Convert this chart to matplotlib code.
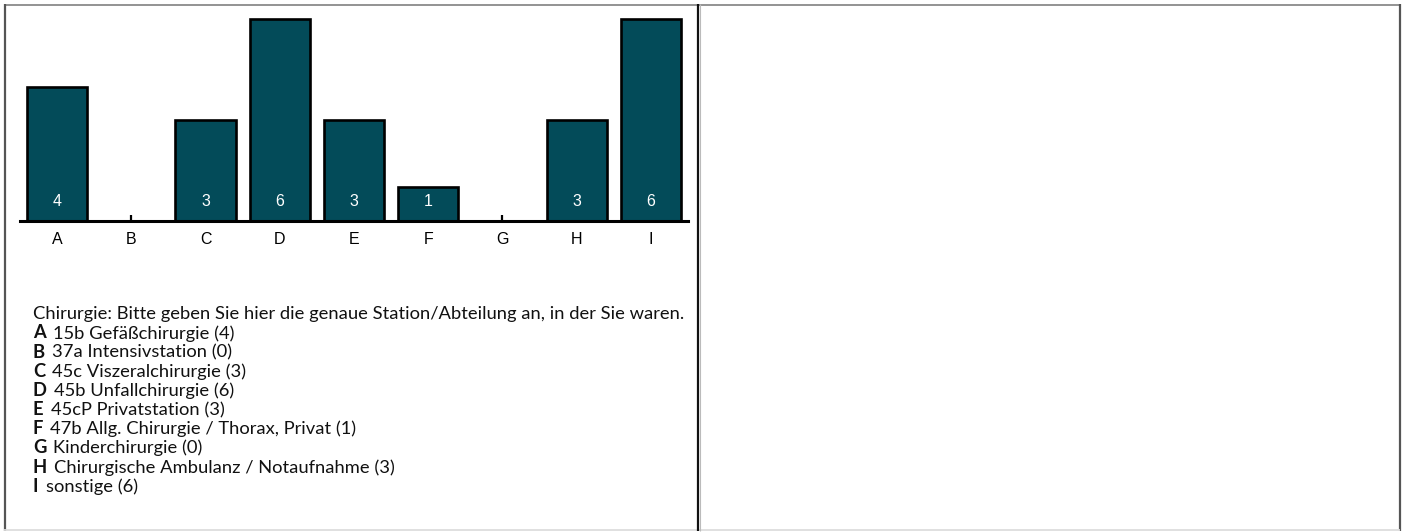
import matplotlib
matplotlib.use("Agg")
import matplotlib.pyplot as plt
from matplotlib.lines import Line2D

categories = ["A", "B", "C", "D", "E", "F", "G", "H", "I"]
values = [4, 0, 3, 6, 3, 1, 0, 3, 6]
title = "Chirurgie: Bitte geben Sie hier die genaue Station/Abteilung an, in der Sie waren."
descriptions = [
    "15b Gefäßchirurgie (4)",
    "37a Intensivstation (0)",
    "45c Viszeralchirurgie (3)",
    "45b Unfallchirurgie (6)",
    "45cP Privatstation (3)",
    "47b Allg. Chirurgie / Thorax, Privat (1)",
    "Kinderchirurgie (0)",
    "Chirurgische Ambulanz / Notaufnahme (3)",
    "sonstige (6)",
]

W, H = 1404, 532
DPI = 100
fig = plt.figure(figsize=(W / DPI, H / DPI), dpi=DPI)
fig.patch.set_facecolor("white")

def fx(px):
    return px / W

def fy(py):
    return 1 - py / H

# panel borders
def fline(x0, y0, x1, y1, color, lw):
    fig.add_artist(Line2D([fx(x0), fx(x1)], [fy(y0), fy(y1)], color=color, lw=lw,
                          transform=fig.transFigure, solid_capstyle="butt"))

fline(4, 4.5, 1400, 4.5, "#8a8a8a", 1.3)
fline(4.5, 4, 4.5, 531, "#555555", 1.6)
fline(1399.5, 4, 1399.5, 531, "#555555", 1.6)
fline(4, 530, 1400, 530, "#dddddd", 1.3)
fline(697.5, 4, 697.5, 531, "#111111", 1.6)
fline(700, 4, 700, 531, "#bbbbbb", 0.8)

# bar chart axes
ymax = 6.3
unit_px = 33.6
axis_y = 221
ax_left, ax_right = 20, 688
ax_h = ymax * unit_px
ax = fig.add_axes([fx(ax_left), fy(axis_y), (ax_right - ax_left) / W, ax_h / H])
ax.set_facecolor("none")
x = list(range(len(categories)))
bar_color = "#034b59"
ax.bar(x, values, width=0.81, color=bar_color, edgecolor="black", linewidth=1.9, zorder=2)
ax.set_xlim(-0.5, len(categories) - 0.5)
ax.set_ylim(0, ymax)
for s in ["top", "right", "left"]:
    ax.spines[s].set_visible(False)
ax.spines["bottom"].set_linewidth(2.2)
ax.spines["bottom"].set_zorder(3)
ax.set_yticks([])
ax.set_xticks(x)
ax.set_xticklabels(categories, fontfamily="Liberation Sans", fontsize=11.5)
ax.tick_params(axis="x", direction="in", length=4, width=1.6, pad=8, color="black")
for xi, v in zip(x, values):
    if v > 0:
        ax.text(xi, 0.58, str(v), color="white", ha="center", va="center",
                fontfamily="Liberation Sans", fontsize=11.5, zorder=4)

# text block
font = "Lato"
fs = 11.5
renderer = fig.canvas.get_renderer()
t = fig.text(fx(33), fy(319), title, fontfamily=font, fontsize=fs, ha="left",
             va="baseline", color="#111111")
w = t.get_window_extent(renderer).width
fs = fs * 650.0 / w
t.set_fontsize(fs)

line_h = 19.15
for i, (cat, desc) in enumerate(zip(categories, descriptions)):
    yb = 338.5 + i * line_h
    bt = fig.text(fx(33), fy(yb), cat, fontfamily=font, fontsize=fs, fontweight="bold",
                  ha="left", va="baseline", color="#111111")
    bw = bt.get_window_extent(renderer)
    fig.text(fx(bw.x1 + 7), fy(yb), desc, fontfamily=font, fontsize=fs, color="#111111",
             ha="left", va="baseline")

fig.savefig("out.png", dpi=DPI, facecolor="white")
